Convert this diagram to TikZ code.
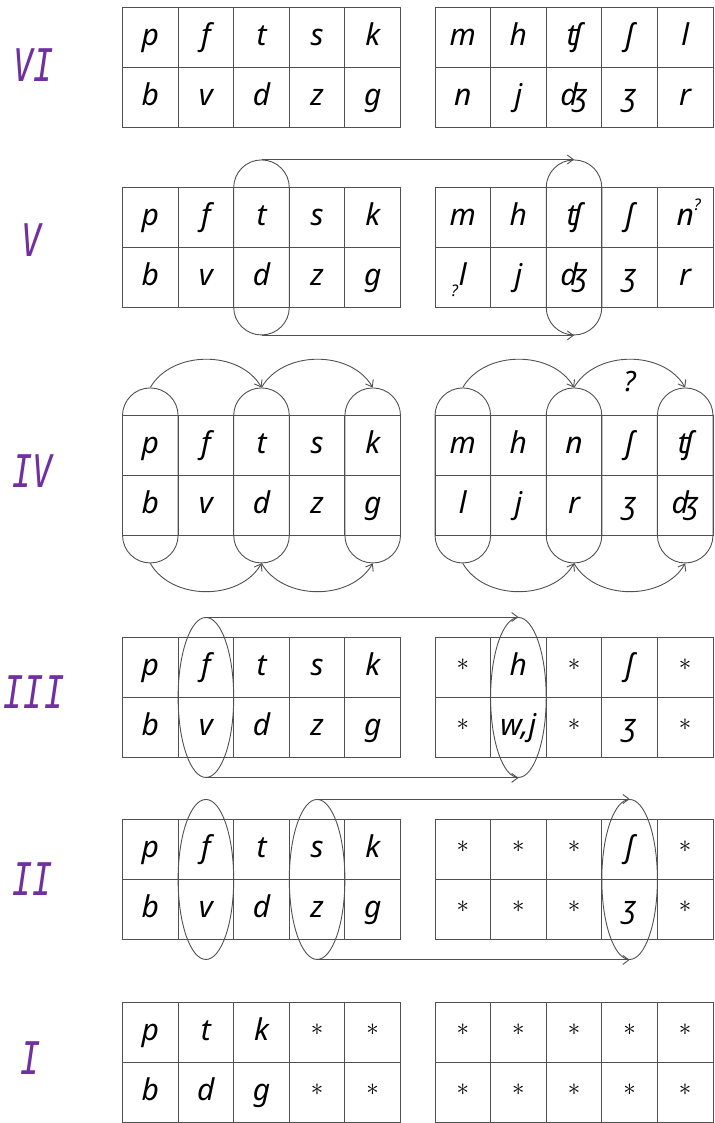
\documentclass[tikz,border=0pt]{standalone}
\usepackage{fontspec}
\setsansfont{Noto Sans}
\newfontfamily\numeralfont{DejaVu Sans Mono}
\usetikzlibrary{arrows.meta,shapes.geometric}
\definecolor{labpurple}{RGB}{112,48,160}
\definecolor{gridgray}{RGB}{80,80,80}
\newcommand{\cellw}{55.6}
\newcommand{\cellh}{60}
\newcommand{\blank}{\raisebox{5pt}{\fontsize{26}{26}\selectfont$\ast$}}
\newcommand{\qhi}{\rlap{\raisebox{0.5em}{\fontsize{16}{16}\selectfont ?}}}
\newcommand{\qlo}{\llap{\raisebox{-0.35em}{\fontsize{16}{16}\selectfont ?}\hspace{1pt}}}
% 2x5 table, top left corner at (#2,#3), entries top/bottom
\newcommand{\cellgrid}[4]{%
  \foreach \topc/\botc [count=\i] in {#4} {
    \node[cell] (#1-t\i) at ({#2+(\i-0.5)*\cellw},{#3+0.5*\cellh}) {\topc};
    \node[cell] (#1-b\i) at ({#2+(\i-0.5)*\cellw},{#3+1.5*\cellh}) {\botc};
  }}

\begin{document}
\begin{tikzpicture}[x=1pt,y=-1pt,
  cell/.style={draw=gridgray, line width=0.9pt, minimum width=\cellw pt, minimum height=\cellh pt,
    inner sep=0pt, text height=21pt, text depth=4pt, font=\sffamily\itshape\fontsize{30}{30}\selectfont},
  stadium/.style={draw=gridgray, line width=0.9pt, rounded corners=27.7pt, minimum width=\cellw pt,
    minimum height=175pt, inner sep=0pt},
  oval/.style={ellipse, draw=gridgray, line width=0.9pt, minimum width=\cellw pt, minimum height=160pt, inner sep=0pt},
  arr/.style={draw=gridgray, line width=0.9pt, -{Straight Barb[length=6pt,width=9pt]}},
  numeral/.style={text=labpurple, font=\numeralfont\itshape\fontsize{45}{45}\selectfont, xscale=0.75},
  qmark/.style={font=\sffamily\itshape\fontsize{28}{28}\selectfont}]
\useasboundingbox (0,0) rectangle (714,1123);

% VI
\node[numeral] (lab6) at (34,65) {VI};
\cellgrid{g6L}{122.5}{7}{p/b,f/v,t/d,s/z,k/g}
\cellgrid{g6R}{435}{7}{m/n,h/j,ʧ/ʤ,ʃ/ʒ,l/r}

% V
\node[numeral] (lab5) at (32,240) {V};
\cellgrid{g5L}{122.5}{187}{p/b,f/v,t/d,s/z,k/g}
\cellgrid{g5R}{435}{187}{m/\qlo l,h/j,ʧ/ʤ,ʃ/ʒ,n\qhi/r}
\node[stadium] (st5L) at (g5L-t3.south) {};
\node[stadium] (st5R) at (g5R-t3.south) {};
\draw[arr] (st5L.north) -- (st5R.north);
\draw[arr] (st5L.south) -- (st5R.south);

% IV
\node[numeral] (lab4) at (33,471) {IV};
\cellgrid{g4L}{122.5}{415}{p/b,f/v,t/d,s/z,k/g}
\cellgrid{g4R}{435}{415}{m/l,h/j,n/r,ʃ/ʒ,ʧ/ʤ}
\foreach \s in {L,R}
  \foreach \c in {1,3,5}
    \node[stadium] (st4\s\c) at (g4\s-t\c.south) {};
\foreach \s in {L,R} {
  \draw[arr] (st4\s1.north) to[out=60,in=120] (st4\s3.north);
  \draw[arr] (st4\s3.north) to[out=60,in=120] (st4\s5.north);
  \draw[arr] (st4\s1.south) to[out=-60,in=-120] (st4\s3.south);
  \draw[arr] (st4\s3.south) to[out=-60,in=-120] (st4\s5.south);
}
\node[qmark] (q4) at ([yshift=33pt]g4R-t4.north) {?};

% III
\node[numeral] (lab3) at (34,692) {III};
\cellgrid{g3L}{122.5}{637}{p/b,f/v,t/d,s/z,k/g}
\cellgrid{g3R}{435}{637}{\blank/\blank,h/{w,j},\blank/\blank,ʃ/ʒ,\blank/\blank}
\node[oval] (ov3L) at (g3L-t2.south) {};
\node[oval] (ov3R) at (g3R-t2.south) {};
\draw[arr] (ov3L.north) -- (ov3R.north);
\draw[arr] (ov3L.south) -- (ov3R.south);

% II
\node[numeral] (lab2) at (33,879) {II};
\cellgrid{g2L}{122.5}{819}{p/b,f/v,t/d,s/z,k/g}
\cellgrid{g2R}{435}{819}{\blank/\blank,\blank/\blank,\blank/\blank,ʃ/ʒ,\blank/\blank}
\node[oval] (ov2L2) at (g2L-t2.south) {};
\node[oval] (ov2L4) at (g2L-t4.south) {};
\node[oval] (ov2R4) at (g2R-t4.south) {};
\draw[arr] (ov2L4.north) -- (ov2R4.north);
\draw[arr] (ov2L4.south) -- (ov2R4.south);

% I
\node[numeral] (lab1) at (31,1058) {I};
\cellgrid{g1L}{122.5}{1002}{p/b,t/d,k/g,\blank/\blank,\blank/\blank}
\cellgrid{g1R}{435}{1002}{\blank/\blank,\blank/\blank,\blank/\blank,\blank/\blank,\blank/\blank}
\end{tikzpicture}
\end{document}
